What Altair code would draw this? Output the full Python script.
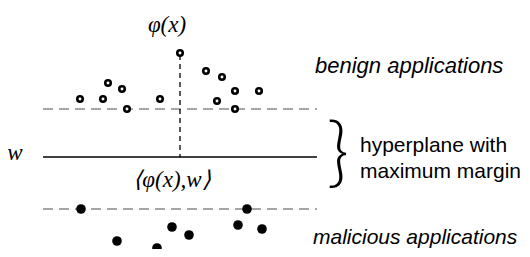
import altair as alt
import pandas as pd

# open circles (benign) and filled circles (malicious), in picture units
benign_x = [180, 206, 222, 108, 122, 80, 103, 127, 160, 235, 259, 217, 235]
benign_y = [53, 71, 77, 83, 89, 99, 99, 109, 99, 91, 91, 101, 109]
malicious_x = [81, 247, 172, 189, 238, 262, 117, 157, 176]
malicious_y = [209, 209, 227, 235, 225, 229, 241, 248, 255]

# lines: margins, hyperplane, projection
margin_y = [109, 209]
hyperplane_y = [157]
line_start = [43]
line_end = [317]
proj_x = [180]
proj_top = [55]

# labels
math_labels = ["φ(x)", "w", "⟨φ(x),w⟩"]
math_x = [167, 15, 172]
math_y = [25, 153, 180]
top_label = ["benign applications"]
top_x = [315]
top_y = [73]
bottom_label = ["malicious applications"]
bottom_x = [313]
bottom_y = [244]
plain_labels = ["hyperplane with", "maximum margin"]
plain_x = [360, 360]
plain_y = [152, 178]
brace_label = ["}"]
brace_x = [338]
brace_y = [155]

xs = alt.Scale(domain=[8, 522])
ys = alt.Scale(domain=[8, 249], reverse=True)
X = lambda f: alt.X(f, type="quantitative", scale=xs, axis=None)
Y = lambda f: alt.Y(f, type="quantitative", scale=ys, axis=None)

margins = pd.DataFrame({"y": margin_y, "x0": line_start * 2, "x1": line_end * 2})
hyper = pd.DataFrame({"y": hyperplane_y, "x0": line_start, "x1": line_end})
proj = pd.DataFrame({"x": proj_x, "y0": proj_top, "y1": hyperplane_y})
benign = pd.DataFrame({"x": benign_x, "y": benign_y})
mal = pd.DataFrame({"x": malicious_x, "y": malicious_y})
mathdf = pd.DataFrame({"x": math_x, "y": math_y, "t": math_labels})
topdf = pd.DataFrame({"x": top_x, "y": top_y, "t": top_label})
botdf = pd.DataFrame({"x": bottom_x, "y": bottom_y, "t": bottom_label})
pldf = pd.DataFrame({"x": plain_x, "y": plain_y, "t": plain_labels})
brdf = pd.DataFrame({"x": brace_x, "y": brace_y, "t": brace_label})

l_margin = alt.Chart(margins).mark_rule(color="#8a8a8a", strokeWidth=1.3, strokeDash=[10, 6]).encode(
    x=X("x0"), x2="x1", y=Y("y"))
l_hyper = alt.Chart(hyper).mark_rule(color="black", strokeWidth=1.4).encode(
    x=X("x0"), x2="x1", y=Y("y"))
l_proj = alt.Chart(proj).mark_rule(color="black", strokeWidth=1.3, strokeDash=[5, 4]).encode(
    x=X("x"), y=Y("y0"), y2="y1")
l_benign = alt.Chart(benign).mark_point(shape="circle", filled=False, color="black", strokeWidth=2.6, size=30, opacity=1, fill="white", fillOpacity=1).encode(
    x=X("x"), y=Y("y"))
l_mal = alt.Chart(mal).mark_point(shape="circle", filled=True, color="black", size=92, opacity=1).encode(
    x=X("x"), y=Y("y"))
l_math = alt.Chart(mathdf).mark_text(font="Liberation Serif", fontStyle="italic", fontSize=23, align="center", baseline="middle", color="black").encode(
    x=X("x"), y=Y("y"), text="t:N")
l_top = alt.Chart(topdf).mark_text(font="Liberation Sans", fontStyle="italic", fontSize=22, align="left", baseline="alphabetic", color="black").encode(
    x=X("x"), y=Y("y"), text="t:N")
l_bot = alt.Chart(botdf).mark_text(font="Liberation Sans", fontStyle="italic", fontSize=21, align="left", baseline="alphabetic", color="black").encode(
    x=X("x"), y=Y("y"), text="t:N")
l_pl = alt.Chart(pldf).mark_text(font="Liberation Sans", fontSize=21, align="left", baseline="alphabetic", color="black").encode(
    x=X("x"), y=Y("y"), text="t:N")
l_br = alt.Chart(brdf).mark_text(font="Lato", fontWeight=300, fontSize=76, align="center", baseline="middle", color="black").encode(
    x=X("x"), y=Y("y"), text="t:N")

chart = alt.layer(l_margin, l_hyper, l_proj, l_benign, l_mal, l_math, l_top, l_bot, l_pl, l_br).properties(
    width=514, height=241,
    autosize=alt.AutoSizeParams(type="none"),
    padding=0,
).configure_view(stroke=None)

chart.save("out.html", embed_options={"renderer": "svg", "actions": False})
